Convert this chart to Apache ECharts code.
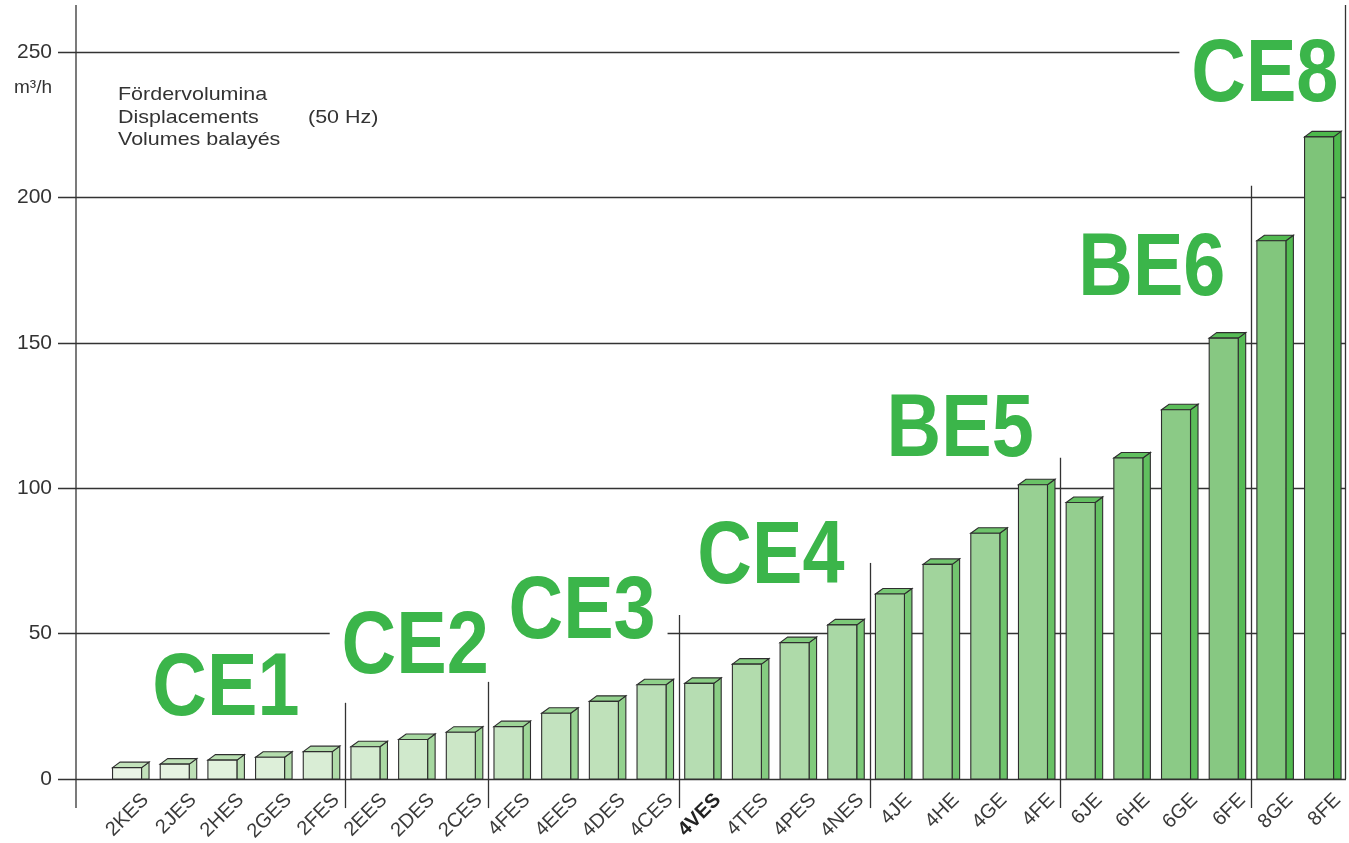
<!DOCTYPE html>
<html>
<head>
<meta charset="utf-8">
<script src="https://cdn.jsdelivr.net/npm/echarts@6.0.0/dist/echarts.min.js"></script>
<style>
html, body { margin: 0; padding: 0; background: #fff; }
#chart { width: 1349px; height: 843px; }
</style>
</head>
<body>
<div id="chart"></div>
<script>
// Verdichter-Typen und Fördervolumen (m3/h, 50 Hz)
var categories = ['2KES', '2JES', '2HES', '2GES', '2FES', '2EES', '2DES', '2CES',
    '4FES', '4EES', '4DES', '4CES', '4VES', '4TES', '4PES', '4NES',
    '4JE', '4HE', '4GE', '4FE', '6JE', '6HE', '6GE', '6FE', '8GE', '8FE'];
var displacement = [3.9, 5.1, 6.5, 7.5, 9.4, 11.1, 13.6, 16.1,
    18.0, 22.6, 26.7, 32.4, 32.9, 39.5, 46.9, 53.0,
    63.6, 73.8, 84.5, 101.2, 95.1, 110.4, 127.0, 151.6, 185.1, 220.8];
var yTicks = [0, 50, 100, 150, 200, 250];

// Baureihen: Name, Position (Kategorie-Index, Wert)
var groupNames = ['CE1', 'CE2', 'CE3', 'CE4', 'BE5', 'BE6', 'CE8'];
var groupLabelIdx = [2.0, 5.97, 9.47, 13.43, 17.4, 21.42, 23.79];
var groupLabelVal = [30.6, 44.8, 56.9, 76.0, 119.6, 175.0, 241.6];

// Trennlinien zwischen den Baureihen
var sepIdx = [4.5, 7.5, 11.5, 15.5, 19.5, 23.5];
var sepTop = [26.2, 33.4, 56.4, 74.3, 110.5, 204];

var chart = echarts.init(document.getElementById('chart'));

function hex2rgb(h) {
    return [parseInt(h.substr(1, 2), 16), parseInt(h.substr(3, 2), 16), parseInt(h.substr(5, 2), 16)];
}
function mix(a, b, t) {
    var c1 = hex2rgb(a), c2 = hex2rgb(b);
    var r = [];
    for (var k = 0; k < 3; k++) {
        r.push(Math.round(c1[k] + (c2[k] - c1[k]) * t));
    }
    return 'rgb(' + r.join(',') + ')';
}

var FONT = '"Liberation Sans", Arial, Helvetica, sans-serif';

function renderBar(params, api) {
    var i = api.value(0);
    var v = api.value(1);
    var top = api.coord([i, v]);
    var base = api.coord([i, 0]);
    var cx = top[0];
    var fw = 29, dx = 7.5, dy = 5.5;
    var fl = cx - 18;
    var fr = fl + fw;
    var t = i / (categories.length - 1);
    var front = mix('#eaf5e6', '#7ec479', t);
    var side = mix('#c2e2ba', '#4db84c', t);
    var edge = { stroke: '#2e2e2e', lineWidth: 1.1 };
    return {
        type: 'group',
        children: [
            {
                type: 'polygon',
                shape: { points: [[fr, top[1]], [fr + dx, top[1] - dy], [fr + dx, base[1]], [fr, base[1]]] },
                style: { fill: side, stroke: edge.stroke, lineWidth: edge.lineWidth }
            },
            {
                type: 'polygon',
                shape: { points: [[fl, top[1]], [fl + dx, top[1] - dy], [fr + dx, top[1] - dy], [fr, top[1]]] },
                style: { fill: side, stroke: edge.stroke, lineWidth: edge.lineWidth }
            },
            {
                type: 'rect',
                shape: { x: fl, y: top[1], width: fw, height: base[1] - top[1] },
                style: { fill: front, stroke: edge.stroke, lineWidth: edge.lineWidth }
            },
            {
                type: 'text',
                x: cx + 15,
                y: base[1] + 18,
                rotation: Math.PI / 4,
                style: {
                    text: categories[i],
                    align: 'right',
                    verticalAlign: 'middle',
                    font: (categories[i] === '4VES' ? 'bold ' : '') + '20px ' + FONT,
                    fill: categories[i] === '4VES' ? '#222' : '#3a3a3a'
                }
            }
        ]
    };
}

var barData = [];
for (var i = 0; i < displacement.length; i++) {
    barData.push([i, displacement[i]]);
}

var option = {
    animation: false,
    backgroundColor: '#fff',
    grid: [
        { left: 58, right: 3, top: 52, bottom: 64 },
        { left: 106.7, right: 2.6, top: 52, bottom: 64 }
    ],
    xAxis: [
        { gridIndex: 0, type: 'value', show: false, min: 0, max: 1 },
        {
            gridIndex: 1,
            type: 'category',
            data: categories,
            boundaryGap: true,
            axisLine: { show: false },
            axisTick: { show: false },
            axisLabel: { show: false }
        }
    ],
    yAxis: [
        {
            gridIndex: 0,
            type: 'value',
            min: yTicks[0],
            max: yTicks[yTicks.length - 1],
            interval: yTicks[1] - yTicks[0],
            axisLine: { show: false },
            axisTick: { show: false },
            axisLabel: { margin: 6, fontSize: 21, color: '#333', fontFamily: FONT },
            splitLine: { lineStyle: { color: '#333', width: 1.3 } }
        },
        {
            gridIndex: 1,
            type: 'value',
            min: yTicks[0],
            max: yTicks[yTicks.length - 1],
            show: false,
            splitLine: { show: false }
        }
    ],
    series: [{
        type: 'custom',
        xAxisIndex: 1,
        yAxisIndex: 1,
        renderItem: renderBar,
        encode: { x: 0, y: 1 },
        data: barData,
        z: 3
    }]
};
chart.setOption(option);

function catX(f) {
    var p0 = chart.convertToPixel({ xAxisIndex: 1 }, 0);
    var p1 = chart.convertToPixel({ xAxisIndex: 1 }, 1);
    return p0 + f * (p1 - p0);
}
function valY(v) {
    return chart.convertToPixel({ yAxisIndex: 1 }, v);
}

var graphics = [];
// Achsenlinien
graphics.push({ type: 'line', z: 120, shape: { x1: 76, y1: 5, x2: 76, y2: 808 }, style: { stroke: '#333', lineWidth: 1.3 } });
graphics.push({ type: 'line', z: 120, shape: { x1: 1345.5, y1: 5, x2: 1345.5, y2: valY(0) }, style: { stroke: '#333', lineWidth: 1.3 } });

// Einheit
graphics.push({
    type: 'text', z: 110, x: 52, y: 88,
    style: { text: 'm³/h', align: 'right', verticalAlign: 'middle', font: '19px ' + FONT, fill: '#333' }
});

// Titeltext
var titleLines = ['Fördervolumina', 'Displacements', 'Volumes balayés'];
for (var k = 0; k < titleLines.length; k++) {
    graphics.push({
        type: 'text', z: 110, x: 118, y: 95 + k * 22.5, scaleX: 1.13,
        style: { text: titleLines[k], align: 'left', verticalAlign: 'middle', font: '19px ' + FONT, fill: '#333' }
    });
}
graphics.push({
    type: 'text', z: 110, x: 308, y: 117.5, scaleX: 1.13,
    style: { text: '(50 Hz)', align: 'left', verticalAlign: 'middle', font: '19px ' + FONT, fill: '#333' }
});

// Baureihen-Beschriftung
for (var g = 0; g < groupNames.length; g++) {
    graphics.push({
        type: 'text', z: 110,
        x: catX(groupLabelIdx[g]),
        y: valY(groupLabelVal[g]),
        scaleX: 0.85,
        style: {
            text: groupNames[g],
            align: 'center',
            verticalAlign: 'middle',
            font: 'bold 89px ' + FONT,
            fill: '#3bb54a',
            backgroundColor: '#fff',
            padding: [0, 14]
        }
    });
}

// Trennlinien
for (var s = 0; s < sepIdx.length; s++) {
    var sx = Math.round(catX(sepIdx[s])) + 0.5;
    graphics.push({
        type: 'line', z: 120,
        shape: { x1: sx, y1: valY(sepTop[s]), x2: sx, y2: valY(-10) },
        style: { stroke: '#333', lineWidth: 1.3 }
    });
}

chart.setOption({ graphic: { elements: graphics } });
</script>
</body>
</html>
